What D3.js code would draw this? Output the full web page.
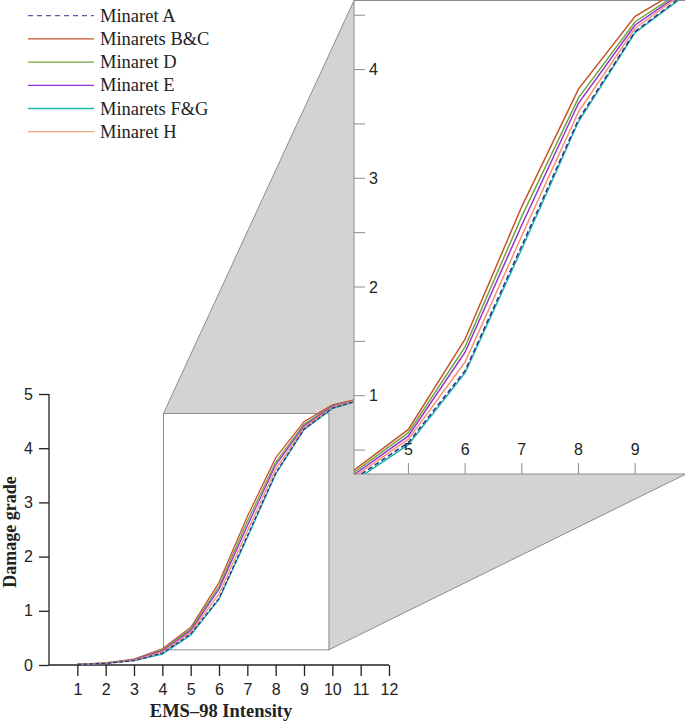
<!DOCTYPE html>
<html>
<head>
<meta charset="utf-8">
<script src="https://cdn.jsdelivr.net/npm/d3@7"></script>
<style>
  html, body { margin: 0; padding: 0; background: #fff; }
  svg { display: block; }
</style>
</head>
<body>
<svg id="chart" width="685" height="724"></svg>
<script>
// ---------------- DATA ----------------
const intensities = [1, 2, 3, 4, 5, 6, 7, 8, 9, 10, 11, 12];
const seriesNames = ["Minaret A", "Minarets B&C", "Minaret D", "Minaret E", "Minarets F&G", "Minaret H"];
const minaretA  = [0.01, 0.03, 0.08, 0.22, 0.57, 1.23, 2.38, 3.54, 4.35, 4.74, 4.89, 4.95];
const minaretBC = [0.01, 0.04, 0.11, 0.30, 0.69, 1.52, 2.74, 3.82, 4.49, 4.80, 4.92, 4.97];
const minaretD  = [0.01, 0.04, 0.10, 0.28, 0.66, 1.45, 2.65, 3.74, 4.44, 4.78, 4.91, 4.96];
const minaretE  = [0.01, 0.03, 0.10, 0.26, 0.63, 1.40, 2.57, 3.69, 4.41, 4.77, 4.90, 4.96];
const minaretFG = [0.01, 0.03, 0.08, 0.20, 0.55, 1.21, 2.35, 3.52, 4.34, 4.73, 4.89, 4.95];
const minaretH  = [0.01, 0.03, 0.09, 0.24, 0.60, 1.31, 2.47, 3.61, 4.38, 4.76, 4.90, 4.96];
const mainXTicks = [1, 2, 3, 4, 5, 6, 7, 8, 9, 10, 11, 12];
const mainYTicks = [0, 1, 2, 3, 4, 5];
const insetXTicks = [5, 6, 7, 8, 9];
const insetYTicks = [0.5, 1, 1.5, 2, 2.5, 3, 3.5, 4, 4.5];
const insetYLabels = [1, 2, 3, 4];
const zoomX = [4.04, 9.88];
const zoomY = [0.28, 4.64];
const xTitle = "EMS–98 Intensity";
const yTitle = "Damage grade";

// ---------------- STYLE ----------------
const colors = {
  "Minaret A": "#2a2f8c",
  "Minarets B&C": "#c8522a",
  "Minaret D": "#6aa83c",
  "Minaret E": "#9b2fd6",
  "Minarets F&G": "#1fb5b0",
  "Minaret H": "#f29472"
};
const legendColors = {
  "Minaret A": "#5a5aa8",
  "Minarets B&C": "#c8522a",
  "Minaret D": "#6aa83c",
  "Minaret E": "#9b2fd6",
  "Minarets F&G": "#1fb5b0",
  "Minaret H": "#f4a080"
};
const valuesByName = {
  "Minaret A": minaretA,
  "Minarets B&C": minaretBC,
  "Minaret D": minaretD,
  "Minaret E": minaretE,
  "Minarets F&G": minaretFG,
  "Minaret H": minaretH
};
const drawOrder = ["Minarets B&C", "Minaret D", "Minaret E", "Minarets F&G", "Minaret H", "Minaret A"];
const series = drawOrder.map(n => ({
  name: n,
  pts: intensities.map((x, i) => ({ x, y: valuesByName[n][i] }))
}));

const svg = d3.select("#chart");
const sans = "'Liberation Sans', Arial, sans-serif";
const serif = "'Liberation Serif', 'Times New Roman', serif";

// ---------------- SCALES ----------------
const x = d3.scaleLinear().domain([0, 12]).range([49, 389]);
const y = d3.scaleLinear().domain([0, 5]).range([665, 394]);
const xi = d3.scaleLinear().domain(zoomX).range([354, 685]);
const yi = d3.scaleLinear().domain(zoomY).range([474, 0]);

// Zoom rectangle corners in main chart
const rL = x(zoomX[0]), rR = x(zoomX[1]), rT = y(zoomY[1]), rB = y(zoomY[0]);
const iL = 354, iR = 686, iT = 0.5, iB = 474;

// ---------------- PROJECTION (gray) ----------------
svg.append("path")
  .attr("d", `M${rL},${rT} L${iL},${iT} L${iR},${iT} L${iR},${iB} L${rR},${rB} L${rR},${rT} Z`)
  .attr("fill", "#d3d3d3")
  .attr("stroke", "none");
svg.append("line").attr("x1", rL).attr("y1", rT).attr("x2", iL).attr("y2", iT)
  .attr("stroke", "#8c8c8c").attr("stroke-width", 1);
svg.append("line").attr("x1", rR).attr("y1", rB).attr("x2", iR).attr("y2", iB)
  .attr("stroke", "#8c8c8c").attr("stroke-width", 1);

// Zoom rectangle in main chart
svg.append("rect")
  .attr("x", rL).attr("y", rT).attr("width", rR - rL).attr("height", rB - rT)
  .attr("fill", "#fff").attr("stroke", "#8c8c8c").attr("stroke-width", 1);

// ---------------- MAIN AXES ----------------
const gx = svg.append("g").attr("transform", `translate(0,${y(0)})`)
  .call(d3.axisBottom(x).tickValues(mainXTicks).tickSize(11).tickPadding(8).tickFormat(d3.format("d")));
gx.select(".domain").attr("d", `M${x(0)},0H${x(12)}`);
const gy = svg.append("g").attr("transform", `translate(${x(0)},0)`)
  .call(d3.axisLeft(y).tickValues(mainYTicks).tickSize(10).tickPadding(6).tickFormat(d3.format("d")));
gy.select(".domain").attr("d", `M0,${y(5)}V${y(0)}`);
[gx, gy].forEach(g => {
  g.selectAll("path, line").attr("stroke", "#222").attr("stroke-width", 1.3);
  g.selectAll("text").attr("font-family", sans).attr("font-size", 16).attr("fill", "#222");
});

svg.append("text")
  .attr("x", 221).attr("y", 717)
  .attr("text-anchor", "middle")
  .attr("font-family", serif).attr("font-weight", "bold").attr("font-size", 18.5)
  .attr("fill", "#222")
  .text(xTitle);
svg.append("text")
  .attr("transform", "translate(16,532) rotate(-90)")
  .attr("text-anchor", "middle")
  .attr("font-family", serif).attr("font-weight", "bold").attr("font-size", 18)
  .attr("fill", "#222")
  .text(yTitle);

// ---------------- MAIN LINES ----------------
const lineMain = d3.line().x(d => x(d.x)).y(d => y(d.y));
svg.append("g").selectAll("path").data(series).join("path")
  .attr("d", d => lineMain(d.pts))
  .attr("fill", "none")
  .attr("stroke", d => colors[d.name])
  .attr("stroke-width", 1.3)
  .attr("stroke-dasharray", d => d.name === "Minaret A" ? "4,2" : null);

// ---------------- INSET ----------------
svg.append("rect")
  .attr("x", iL).attr("y", iT).attr("width", iR - iL).attr("height", iB - iT)
  .attr("fill", "#fff").attr("stroke", "#8c8c8c").attr("stroke-width", 1);

svg.append("clipPath").attr("id", "insetClip")
  .append("rect").attr("x", iL).attr("y", iT).attr("width", iR - iL).attr("height", iB - iT);

const lineInset = d3.line().x(d => xi(d.x)).y(d => yi(d.y));
svg.append("g").attr("clip-path", "url(#insetClip)")
  .selectAll("path").data(series).join("path")
  .attr("d", d => lineInset(d.pts))
  .attr("fill", "none")
  .attr("stroke", d => colors[d.name])
  .attr("stroke-width", 1.5)
  .attr("stroke-dasharray", d => d.name === "Minaret A" ? "5,3" : null);

// inset y ticks (inward)
const gyi = svg.append("g");
gyi.selectAll("line").data(insetYTicks).join("line")
  .attr("x1", iL).attr("x2", iL + 11)
  .attr("y1", d => yi(d)).attr("y2", d => yi(d))
  .attr("stroke", "#8c8c8c").attr("stroke-width", 1);
gyi.selectAll("text").data(insetYLabels).join("text")
  .attr("x", iL + 15).attr("y", d => yi(d))
  .attr("dy", "0.35em")
  .attr("font-family", sans).attr("font-size", 16).attr("fill", "#222")
  .text(d => d3.format("d")(d));

// inset x ticks (inward)
const gxi = svg.append("g");
gxi.selectAll("line").data(insetXTicks).join("line")
  .attr("x1", d => xi(d)).attr("x2", d => xi(d))
  .attr("y1", iB).attr("y2", iB - 11)
  .attr("stroke", "#8c8c8c").attr("stroke-width", 1);
gxi.selectAll("text").data(insetXTicks).join("text")
  .attr("x", d => xi(d)).attr("y", iB - 19)
  .attr("text-anchor", "middle")
  .attr("font-family", sans).attr("font-size", 16).attr("fill", "#222")
  .text(d => d3.format("d")(d));

// ---------------- LEGEND ----------------
const legend = svg.append("g");
const rowY = i => 15.7 + i * 23.2;
legend.selectAll("line").data(seriesNames).join("line")
  .attr("x1", 28).attr("x2", 94)
  .attr("y1", (d, i) => rowY(i)).attr("y2", (d, i) => rowY(i))
  .attr("stroke", d => legendColors[d])
  .attr("stroke-width", 1.3)
  .attr("stroke-dasharray", d => d === "Minaret A" ? "5,4" : null);
legend.selectAll("text").data(seriesNames).join("text")
  .attr("x", 100).attr("y", (d, i) => rowY(i))
  .attr("dy", "0.33em")
  .attr("font-family", serif).attr("font-size", 18.5).attr("fill", "#222")
  .text(d => d);
</script>
</body>
</html>
